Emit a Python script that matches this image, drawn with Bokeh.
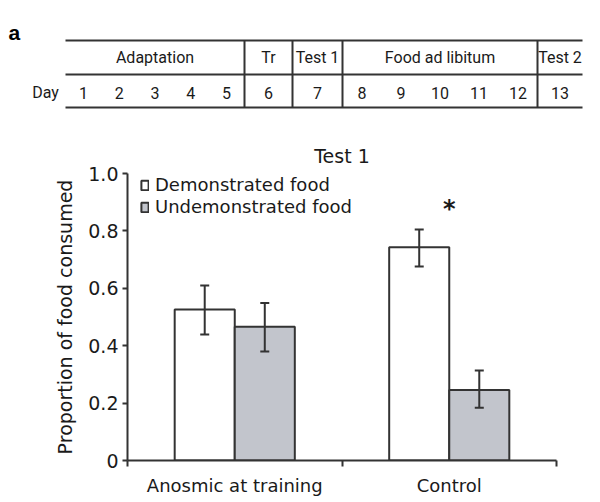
from bokeh.plotting import figure
from bokeh.models import Range1d, FixedTicker, Whisker, TeeHead, ColumnDataSource, Legend, LegendItem, Label
from bokeh.layouts import column
from bokeh.transform import dodge
from bokeh.core.properties import value
from bokeh.embed import file_html
from bokeh.resources import INLINE

# ---------------- data ----------------
# panel a: timeline
day_label = "Day"
days = [1, 2, 3, 4, 5, 6, 7, 8, 9, 10, 11, 12, 13]
phases = ["Adaptation", "Tr", "Test 1", "Food ad libitum", "Test 2"]
phase_first_day = [1, 6, 7, 8, 13]
phase_last_day = [5, 6, 7, 12, 13]

# panel b: bar chart
chart_title = "Test 1"
groups = ["Anosmic at training", "Control"]
series = ["Demonstrated food", "Undemonstrated food"]
demonstrated = [0.526, 0.743]
demonstrated_lo = [0.439, 0.676]
demonstrated_hi = [0.610, 0.805]
undemonstrated = [0.466, 0.246]
undemonstrated_lo = [0.380, 0.184]
undemonstrated_hi = [0.549, 0.314]
significance = ["", "*"]
y_ticks = [0, 0.2, 0.4, 0.6, 0.8, 1.0]
y_tick_labels = ["0", "0.2", "0.4", "0.6", "0.8", "1.0"]
y_label = "Proportion of food consumed"

# ---------------- styles ----------------
LINE = "#333333"
TEXT = "#1a1a1a"
NARROW = "Roboto"
SANS = "DejaVu Sans"
BOLD = "Liberation Sans"
W = 600
HA = 130
HB = 372


def no_align(p):
    try:
        p.frame_align = False
    except Exception:
        pass


# ---------------- panel a ----------------
pa = figure(width=W, height=HA, x_range=Range1d(0, W), y_range=Range1d(HA, 0),
            output_backend="svg", toolbar_location=None, min_border=0,
            x_axis_location=None, y_axis_location=None, outline_line_color=None)
pa.grid.visible = False
no_align(pa)

EDGES = [65, 244, 292, 342, 537, 582]
Y_TOP, Y_MID, Y_BOT = 40, 74, 107
HEAD_Y, DAY_Y = 57, 92

pa.segment(x0=[EDGES[0]] * 3, x1=[EDGES[-1]] * 3, y0=[Y_TOP, Y_MID, Y_BOT], y1=[Y_TOP, Y_MID, Y_BOT],
           line_color=LINE, line_width=2)
pa.segment(x0=EDGES[1:-1], x1=EDGES[1:-1], y0=[Y_TOP] * 4, y1=[Y_BOT] * 4,
           line_color=LINE, line_width=2)

head_x = [(EDGES[i] + EDGES[i + 1]) / 2 for i in range(len(phases))]
pa.text(x=head_x, y=[HEAD_Y] * len(phases), text=phases, text_align="center", text_baseline="middle",
        text_font=value(NARROW), text_font_size="16px", text_color=TEXT)

day_x, day_t = [], []
for i in range(len(phases)):
    n = phase_last_day[i] - phase_first_day[i] + 1
    w = (EDGES[i + 1] - EDGES[i]) / n
    for d in days:
        if phase_first_day[i] <= d <= phase_last_day[i]:
            day_x.append(EDGES[i] + (d - phase_first_day[i] + 0.5) * w)
            day_t.append(str(d))
pa.text(x=day_x, y=[DAY_Y] * len(day_x), text=day_t, text_align="center", text_baseline="middle",
        text_font=value(NARROW), text_font_size="16px", text_color=TEXT)
pa.text(x=[45], y=[DAY_Y], text=[day_label], text_align="center", text_baseline="middle",
        text_font=value(NARROW), text_font_size="16px", text_color=TEXT)
pa.text(x=[8], y=[32], text=["a"], text_align="left", text_baseline="alphabetic",
        text_font=value(BOLD), text_font_style="bold", text_font_size="21px", text_color="#000000")

# ---------------- panel b ----------------
FL, FR, FT, FB = 127, 556, 173, 460  # frame edges in page pixels
pb = figure(width=W, height=HB, x_range=Range1d(0, len(groups)), y_range=Range1d(0, 1.0),
            output_backend="svg", toolbar_location=None,
            min_border_left=FL, min_border_right=W - FR, min_border_top=FT - HA,
            min_border_bottom=HA + HB - FB, outline_line_color=None)
pb.grid.visible = False
no_align(pb)

src = ColumnDataSource(dict(
    x=[i + 0.5 for i in range(len(groups))],
    demo=demonstrated, demo_lo=demonstrated_lo, demo_hi=demonstrated_hi,
    und=undemonstrated, und_lo=undemonstrated_lo, und_hi=undemonstrated_hi,
    sig=significance,
))

BW = 0.28
r1 = pb.vbar(x=dodge("x", -BW / 2), top="demo", width=BW, source=src,
             fill_color="white", line_color=LINE, line_width=2)
r2 = pb.vbar(x=dodge("x", BW / 2), top="und", width=BW, source=src,
             fill_color="#c2c5cc", line_color=LINE, line_width=2)

for off, lo, hi in [(-BW / 2, "demo_lo", "demo_hi"), (BW / 2, "und_lo", "und_hi")]:
    wk = Whisker(base=dodge("x", off), lower=lo, upper=hi, source=src,
                 line_color=LINE, line_width=2, level="overlay",
                 upper_head=TeeHead(size=9, line_color=LINE, line_width=2),
                 lower_head=TeeHead(size=9, line_color=LINE, line_width=2))
    pb.add_layout(wk)

pb.text(x="x", y="demo_hi", text="sig", source=src, y_offset=-20, text_align="center",
        text_baseline="alphabetic", text_font=value(SANS), text_font_style="bold",
        text_font_size="24px", text_color=TEXT)

legend = Legend(items=[LegendItem(label=series[0], renderers=[r1]),
                       LegendItem(label=series[1], renderers=[r2])],
                location=(13, 243), border_line_color=None, background_fill_alpha=0,
                padding=0, margin=0, spacing=1, glyph_width=9, glyph_height=12,
                label_standoff=6, label_height=20, label_text_font=SANS,
                label_text_font_size="18px", label_text_color=TEXT)
pb.add_layout(legend)

pb.title.text = chart_title
pb.title.align = "center"
pb.title.text_font = SANS
pb.title.text_font_size = "19px"
pb.title.text_font_style = "normal"
pb.title.text_color = TEXT
pb.title.standoff = 14

xa = pb.xaxis[0]
xa.ticker = FixedTicker(ticks=[i + 0.5 for i in range(len(groups))],
                        minor_ticks=list(range(len(groups) + 1)))
xa.major_label_overrides = {i + 0.5: g for i, g in enumerate(groups)}
xa.major_tick_out = 0
xa.major_tick_in = 0
xa.minor_tick_out = 6
xa.minor_tick_in = 0
xa.minor_tick_line_width = 2
xa.minor_tick_line_color = LINE
xa.major_label_standoff = 8

ya = pb.yaxis[0]
ya.ticker = FixedTicker(ticks=y_ticks, minor_ticks=[])
ya.major_label_overrides = dict(zip(y_ticks, y_tick_labels))
ya.major_tick_out = 5
ya.major_tick_in = 0
ya.major_label_standoff = 4
ya.axis_label = y_label
ya.axis_label_standoff = 9
ya.axis_label_text_font = SANS
ya.axis_label_text_font_size = "19px"
ya.axis_label_text_font_style = "normal"
ya.axis_label_text_color = TEXT

for ax in (xa, ya):
    ax.axis_line_width = 2
    ax.axis_line_color = LINE
    ax.major_tick_line_width = 2
    ax.major_tick_line_color = LINE
    ax.major_label_text_font = SANS
    ax.major_label_text_font_size = "18px"
    ax.major_label_text_color = TEXT
ya.major_label_text_font_size = "19px"

pb.add_layout(Label(x=8 - FL, y=FB - 151, x_units="screen", y_units="screen", text="b",
                    text_font=BOLD, text_font_style="bold", text_font_size="21px",
                    text_color="#000000"))

layout = column(pa, pb)
open("out.html", "w").write(file_html(layout, INLINE))
